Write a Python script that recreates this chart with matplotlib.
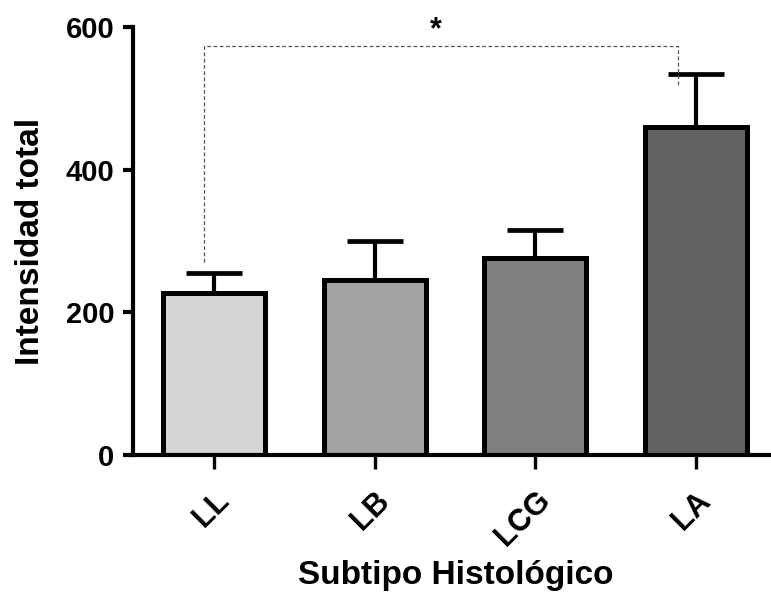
import matplotlib
matplotlib.use("Agg")
import matplotlib.pyplot as plt
from matplotlib.transforms import ScaledTranslation

categories = ["LL", "LB", "LCG", "LA"]
means = [227, 246, 276, 460]
errors = [28, 54, 39, 74]
colors = ["#d4d4d4", "#a3a3a3", "#808080", "#626262"]
yticks = [0, 200, 400, 600]
bracket_y = 573
bracket_left_bottom = 270
bracket_right_bottom = 516

plt.rcParams['font.family'] = ['Liberation Sans', 'DejaVu Sans']
plt.rcParams['font.weight'] = 'bold'

fig = plt.figure(figsize=(7.71, 6.03), dpi=100)
ax = fig.add_axes([0.1725, 0.2454, 0.8275, 0.7098])

x = list(range(len(categories)))
ax.bar(x, means, width=0.635, color=colors, edgecolor="black", linewidth=3.6, zorder=2)
ax.errorbar(x, means, yerr=[[0]*len(errors), errors], fmt="none", ecolor="black",
            elinewidth=3.0, capsize=20, capthick=3.4, zorder=1)

# significance bracket
x0 = x[0] - 0.06
x1 = x[3] - 0.11
ax.plot([x0, x0, x1, x1], [bracket_left_bottom, bracket_y, bracket_y, bracket_right_bottom],
        ls=(0, (3, 2)), color="#555555", lw=0.9, zorder=3, clip_on=False)
ax.text(1.38, bracket_y + 2, "*", ha="center", va="bottom",
        fontsize=22, fontweight="bold")

ax.set_xlim(-0.505, 3.47)
ax.set_ylim(0, 600)
ax.set_yticks(yticks)
ax.set_yticklabels([str(v) for v in yticks], fontsize=21, fontweight="bold")
ax.set_xticks(x)
ax.set_xticklabels(categories, fontsize=22, fontweight="bold", rotation=45,
                   ha="right", rotation_mode="anchor")
offset = ScaledTranslation(-7 / 100, 0, fig.dpi_scale_trans)
for lbl in ax.get_xticklabels():
    lbl.set_transform(lbl.get_transform() + offset)

for s in ["top", "right"]:
    ax.spines[s].set_visible(False)
for s in ["left", "bottom"]:
    ax.spines[s].set_linewidth(3.0)
ax.tick_params(axis="y", length=7.5, width=3.0, pad=6)
ax.tick_params(axis="x", length=10, width=2.4, pad=12)

ax.set_ylabel("Intensidad total", fontsize=24, fontweight="bold", labelpad=14)
ax.set_xlabel("Subtipo Histológico", fontsize=24, fontweight="bold")
ax.xaxis.set_label_coords((456 - 133) / (771 - 133), -0.245)

fig.savefig("out.png", dpi=100)
